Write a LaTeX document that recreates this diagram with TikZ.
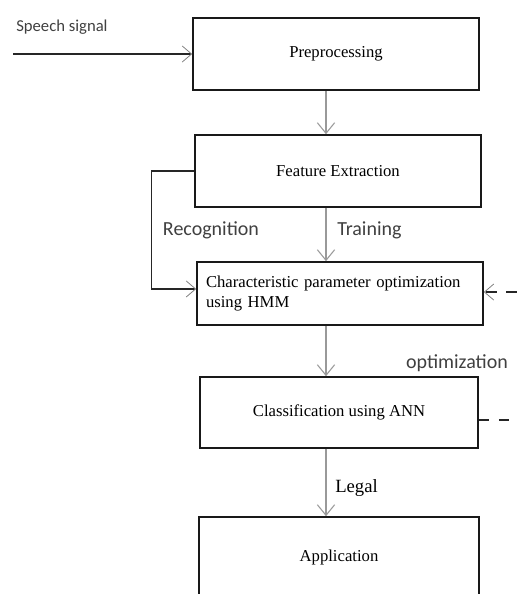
\documentclass[tikz,border=0pt]{standalone}
\usepackage{fontspec}
\setmainfont{Liberation Serif}
\newfontfamily\labelfont{Carlito}
\usetikzlibrary{arrows.meta}

\begin{document}
\begin{tikzpicture}[
        x=0.75pt, y=-0.75pt,
        stage/.style= {
            draw=black!90, line width=1.2pt, font=\fontsize{12.5}{15}\selectfont,
            minimum width=214.5pt, minimum height=54pt, inner sep=0pt
        },
        flow/.style = {
                draw=black!40, line width=1.5pt,
                -{Straight Barb[length=8pt, width=13pt, line width=0.8pt]}
            },
        feed/.style = {
                draw=black!85, line width=0.9pt,
                -{Straight Barb[length=7pt, width=12pt, line width=0.6pt, color=black!50]}
            },
        optloop/.style = {
                feed, dash pattern=on 8pt off 7pt
            },
        tag/.style = {
                font=\labelfont\fontsize{15}{17}\selectfont, text=black!75, inner sep=0pt
            },
        ]
        \useasboundingbox (0,0) rectangle (517,594);
        \clip (0,0) rectangle (517,594);

        \node [stage] (pre) at (336,54) {Preprocessing};
        \node [stage] (feat) at (338,171) {Feature Extraction};
        \node [stage, minimum height=47.25pt, text width=201pt, align=left,
            inner xsep=6.75pt] (hmm) at (340,293.5)
            {Characteristic parameter optimization\\using HMM};
        \node [stage, minimum width=208.5pt, minimum height=53.25pt] (cls) at (339,412.5)
            {Classification using ANN};
        \node [stage, minimum width=210pt, minimum height=60.75pt] (app) at (339,557.5)
            {Application};

        \coordinate (spine) at (326,0);
        \coordinate (speechin) at (13,54);

        % input and main flow
        \draw [feed] (speechin) -- (pre.west);
        \node [tag, anchor=west, font=\labelfont\fontsize{12.5}{15}\selectfont] (speech) at (16,27) {Speech signal};
        \draw [flow] (spine |- pre.south) -- (spine |- feat.north);
        \draw [flow] (spine |- feat.south) -- (spine |- hmm.north);
        \draw [flow] (spine |- hmm.south) -- (spine |- cls.north);
        \draw [flow] (spine |- cls.south) -- (spine |- app.north);

        % recognition path
        \draw [feed] (feat.west) -- ++(-43,0) |- ([yshift=3.4pt]hmm.west);

        % optimization loop
        \draw [optloop] ([yshift=-5.6pt]cls.east) -- ++(75,0) |- ([yshift=1.1pt]hmm.east);

        \node [tag] (recog) at (211,230) {Recognition};
        \node [tag, anchor=west] (train) at (337,230) {Training};
        \node [tag] (opt) at (457,363) {optimization};
        \node [anchor=west, inner sep=0pt, font=\fontsize{14}{16}\selectfont] (legal) at (335,488) {Legal};
    \end{tikzpicture}
\end{document}
